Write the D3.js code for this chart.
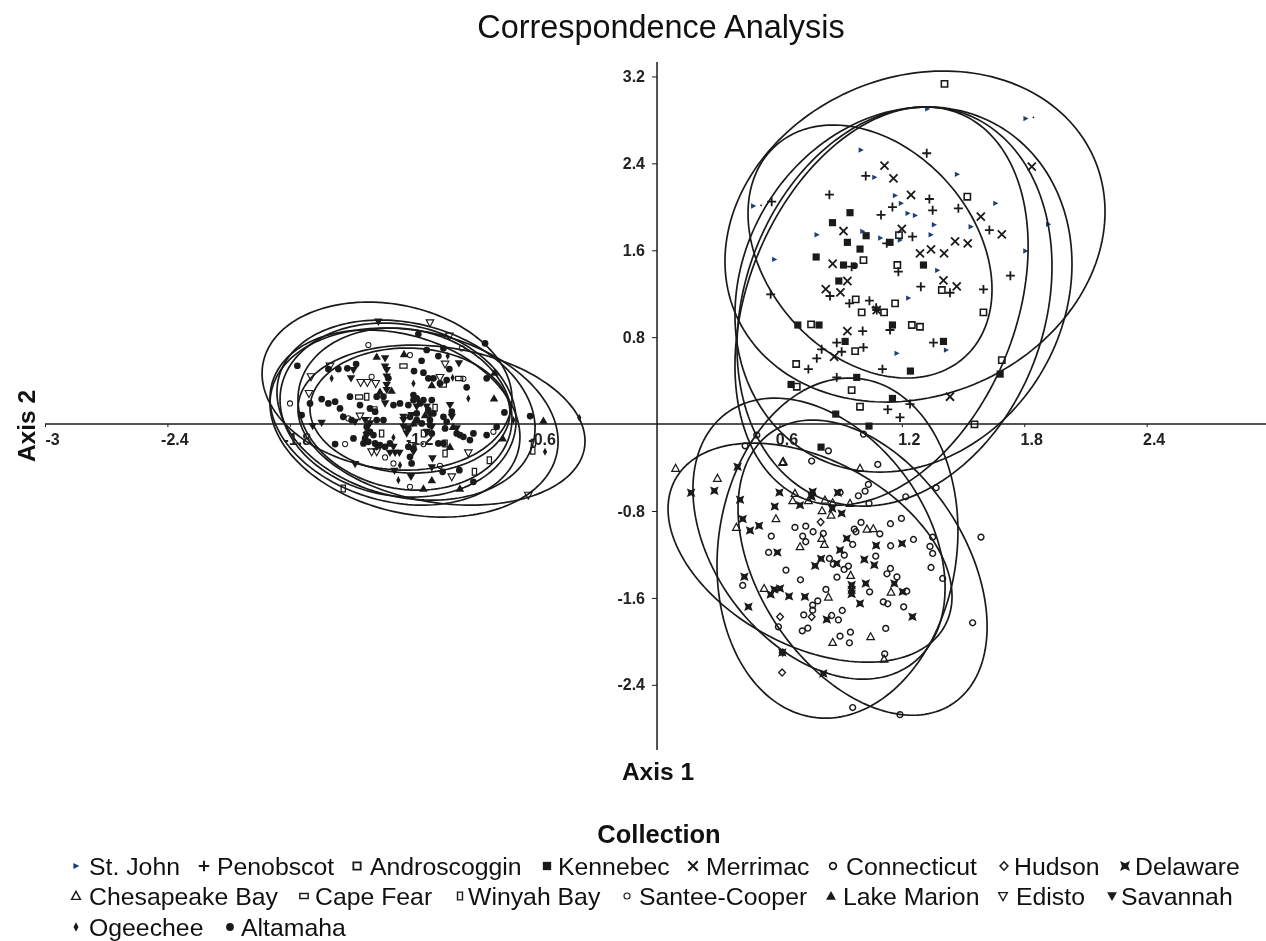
<!DOCTYPE html>
<html><head><meta charset="utf-8">
<script src="https://cdn.jsdelivr.net/npm/d3@7/dist/d3.min.js"></script>
<style>html,body{margin:0;padding:0;background:#fff}svg{display:block;filter:blur(0.35px)}text{font-family:"Liberation Sans",Arial,sans-serif;fill:#111}</style>
</head><body><svg id="c" width="1266" height="941"></svg>
<script>
const stJohn=[[.472,2.007],[.575,1.516],[.783,1.743],[.999,2.523],[1.066,2.271],[1.167,2.103],[1.196,2.032],[1.229,1.94],[1.265,1.921],[1.358,1.835],[1.342,1.743],[1.007,1.774],[1.095,1.713],[1.191,1.694],[1.471,2.299],[1.325,2.901],[1.807,2.812],[1.659,2.032],[1.538,1.817],[1.918,1.839],[1.806,1.593],[1.374,1.415],[1.232,1.16],[1.175,.651],[1.417,.681]];
const strayDots=[[.51,2.014],[1.845,2.824]];
const penobscot=[[.562,2.047],[.845,2.112],[1.023,2.284],[1.322,2.493],[1.477,1.986],[1.154,1.998],[1.098,1.925],[1.335,2.072],[1.351,1.968],[1.126,1.664],[1.252,1.725],[1.629,1.786],[1.732,1.366],[1.6,1.24],[1.293,1.265],[1.436,1.209],[1.183,1.403],[1.041,1.136],[.943,1.111],[1.074,1.071],[.848,1.179],[.557,1.194],[.954,1.449],[1.008,.856],[1.142,.866],[.881,.749],[.807,.688],[.905,.666],[.783,.605],[1.012,.706],[.742,.506],[1.105,.506],[.881,.43],[1.355,.749],[1.131,.135],[1.191,.061],[1.24,.184],[1.077,1.05]];
const androscoggin=[[1.409,3.131],[1.521,2.093],[1.186,1.74],[1.396,1.234],[1.167,1.111],[.974,1.148],[1.012,1.51],[1.178,1.464],[1.003,1.028],[1.113,1.028],[1.6,1.028],[.755,.918],[1.249,.912],[1.289,.896],[.971,.672],[.682,.553],[.685,.344],[.954,.313],[.995,.16],[1.69,.589],[1.556,-.003]];
const kennebec=[[.946,1.946],[.86,1.854],[1.025,1.734],[.933,1.673],[.995,1.611],[1.142,1.673],[.78,1.538],[.914,1.464],[1.306,1.464],[.891,1.317],[.69,.912],[.794,.912],[1.154,.912],[.922,.761],[1.404,.761],[1.242,.488],[.979,.43],[1.154,.236],[.657,.365],[1.682,.46],[.876,.092],[1.039,-.018],[.804,-.212]];
const merrimac=[[1.115,2.379],[1.159,2.262],[1.245,2.109],[1.2,1.796],[.914,1.777],[1.587,1.909],[1.69,1.747],[1.461,1.682],[1.523,1.664],[1.289,1.572],[1.343,1.608],[1.407,1.572],[.861,1.476],[1.404,1.323],[1.469,1.268],[.933,1.317],[.827,1.243],[.899,1.212],[1.837,2.37],[.933,.856],[1.436,.252],[1.077,1.05],[.868,.62]];
const connecticut=[[.676,-.951],[.729,-.939],[.765,-.991],[.815,-1.007],[.714,-1.031],[.729,-1.083],[.56,-1.031],[.547,-1.181],[.632,-1.344],[.703,-1.433],[.828,-1.522],[.882,-1.409],[.845,-1.237],[.864,-1.289],[.917,-1.338],[.938,-1.307],[.918,-1.206],[.967,-.967],[.975,-.991],[1,-.905],[1.092,-1.01],[1.144,-.917],[1.198,-.868],[.959,-1.108],[1.145,-1.12],[1.257,-1.062],[1.351,-1.04],[1.338,-1.126],[1.351,-1.191],[1.343,-1.32],[1.4,-1.421],[1.588,-1.04],[1.547,-1.829],[1.072,-1.215],[1.144,-1.329],[1.127,-1.378],[1.176,-1.406],[1.042,-1.544],[1.109,-1.636],[1.131,-1.654],[1.209,-1.682],[1.224,-1.538],[.788,-1.627],[.763,-1.667],[.763,-1.713],[.719,-1.756],[.595,-1.866],[.712,-1.903],[.739,-1.878],[.856,-1.762],[.889,-1.802],[.908,-1.716],[.897,-1.952],[.948,-1.915],[.943,-2.013],[1.121,-1.881],[1.116,-2.115],[.959,-2.609],[1.191,-2.674],[.42,-1.485],[.897,-.629],[.987,-.66],[1.02,-.617],[1.036,-.555],[1.039,-.73],[1.219,-.669],[1.368,-.586],[1.082,-.371],[.758,-.34],[.84,-.246],[1.012,-.092],[.489,-.101],[.432,-.2]];
const hudson=[[.802,-.902],[.603,-1.774],[.613,-2.287],[.758,-1.774],[.616,-2.103]];
const delaware=[[.167,-.632],[.281,-.614],[.395,-.393],[.407,-.696],[.6,-.629],[.577,-.758],[.42,-.874],[.5,-.936],[.456,-.979],[.59,-1.181],[.428,-1.406],[.448,-1.682],[.557,-1.568],[.575,-1.522],[.603,-1.513],[.647,-1.584],[.725,-1.59],[.775,-1.304],[.804,-1.24],[.881,-1.283],[.897,-1.16],[.93,-1.053],[.954,-1.482],[.954,-1.528],[.954,-1.565],[1.023,-1.467],[1.016,-1.246],[1.065,-1.298],[1.074,-1.117],[1.201,-1.099],[1.163,-1.467],[.995,-1.651],[.832,-1.799],[1.252,-1.774],[.886,-.632],[.763,-.623],[.758,-.669],[.701,-.746],[.859,-.776],[.905,-.822],[.614,-2.103],[.815,-2.296],[1.204,-1.544]];
const chesapeake=[[.296,-.5],[.619,-.346],[.995,-.408],[.676,-.638],[.665,-.706],[.742,-.706],[.823,-.7],[.946,-.73],[.809,-.798],[.853,-.838],[.583,-.871],[.389,-.951],[1.029,-.967],[1.06,-.964],[.807,-1.053],[.82,-1.108],[.701,-1.129],[.949,-1.393],[.525,-1.513],[.84,-1.593],[1.147,-1.547],[.861,-2.01],[1.047,-1.958],[1.113,-2.164],[.091,-.408],[.861,-.724],[.615,-.353]];
const capeFear=[[-1.243,.534],[-1.39,.14],[-1.2,-.19],[-1.05,.36],[-1.46,.25],[-.97,.42]];
const winyah=[[-1.088,.15],[-1.039,-.27],[-1.039,-.178],[-.822,-.332],[-.895,-.439],[-1.538,-.593],[-.606,-.172],[-.609,-.246],[-1.145,-.086],[-1.35,-.086],[-1.423,.252]];
const santee=[[-1.415,.728],[-1.211,.635],[-.957,.697],[-1.399,.436],[-1.513,.052],[-.949,.417],[-1.529,-.184],[-1.333,-.307],[-1.292,-.362],[-1.064,-.384],[-1.211,-.577],[-1.145,-.184],[-.802,-.071],[-1.799,.19]];
const lakeMarion=[[-1.24,.645],[-1.374,.62],[-1.301,.307],[-1.104,.359],[-.797,.473],[-.799,.236],[-.557,.031],[-.756,-.132],[-1.104,-.516],[-.966,-.593],[-1.015,-.209],[-1.137,.083],[-1.145,-.593],[-1.358,.298],[-1.194,.006],[-1,-.025]];
const edisto=[[-1.113,.933],[-1.018,.81],[-1.039,.553],[-1.696,.436],[-1.706,.282],[-1.453,.384],[-1.42,.384],[-1.379,.374],[-1.456,.074],[-1.42,.031],[-1.399,-.255],[-1.374,-.255],[-1.006,-.485],[-.631,-.654],[-.925,-.264],[-1.064,.43],[-1.603,.534]];
const savannah=[[-1.366,.942],[-1.48,-.368],[-1.287,-.43],[-1.206,-.485],[-1.101,-.316],[-1.104,-.399],[-.971,.559],[-1.333,.605],[-1.5,.421],[-1.644,.012],[-1.688,-.018],[-1.333,.19],[-1.284,-.264],[-1.309,-.264],[-1.263,-.264],[-1.325,.436],[-1.325,.359],[-1.325,.313],[-1.015,.175],[-1.243,.067],[-1.431,.037],[-1.48,.021],[-1.243,-.025],[-1.104,-.025],[-1.203,.083],[-1.194,-.255],[-1.178,.16],[-1.129,.16],[-1.113,.083],[-1.243,.037],[-1.227,-.086],[-1.129,-.071],[-1.374,-.209],[-1.423,-.101],[-1.407,.006],[-1.292,-.209],[-1.325,.497],[-1.333,.528],[-1.488,.497],[-1.006,.067],[-.982,-.04]];
const ogeechee=[[-1.595,.421],[-1.194,.374],[-1.002,.427],[-.925,.236],[-1.541,.067],[-.704,.037],[-.549,-.255],[-1.268,-.516],[-.381,.058],[-1.292,-.123],[-1.26,-.378],[-1.026,.626]];
const altamaha=[[.968,1.458],[-1.17,.829],[-1.129,.682],[-1.047,.697],[-1.072,.626],[-1.154,.583],[-1.018,.506],[-1.191,.488],[-1.145,.473],[-1.121,.421],[-1.064,.374],[-.933,.338],[-1.562,.506],[-1.475,.553],[-1.611,.506],[-1.518,.513],[-1.763,.537],[-1.742,.083],[-1.644,.23],[-1.578,.206],[-1.611,.19],[-1.701,.19],[-1.578,-.184],[-1.488,-.132],[-.843,.743],[-.835,.421],[-.748,.107],[-.786,-.025],[-.835,-.101],[-.9,-.086],[-.966,-.101],[-.917,-.147],[-1.051,-.439],[-.969,-.424],[-.9,-.531],[-1.203,-.362],[-1.219,-.209],[-1.047,-.178],[-1.072,-.178],[-1.439,-.178],[-1.423,-.086],[-1.374,.037],[-1.341,.037],[-1.113,.037],[-1.145,.221],[-1.104,.221],[-1.194,.267],[-1.194,.221],[-1.26,.19],[-1.292,.175],[-.622,.074],[-1.219,.175],[-1.178,.236],[-1.162,.19],[-1.121,.129],[-1.096,.098],[-1.178,.098],[-1.211,.067],[-1.219,-.04],[-1.178,.037],[-1.153,.006],[-1.113,-.009],[-1.104,-.086],[-1.423,-.025],[-1.407,-.071],[-1.39,-.101],[-1.431,-.132],[-1.415,-.163],[-1.382,-.178],[-1.358,-.193],[-1.333,-.209],[-1.309,-.178],[-1.374,.252],[-1.341,.252],[-1.505,.252],[-1.456,.175],[-1.407,.144],[-1.382,.114],[-1.554,.144],[-1.538,.067],[-1.497,.037],[-1.047,.067],[-1.006,.114],[-1.031,.021],[-1.039,-.04],[-.982,-.086],[-.949,-.117],[-1.194,-.224],[-1.211,-.301],[-1.317,.421],[-1.096,.421],[-1.031,.405]];

// ellipses: xMin, xMax, yMin, yMax, tilt
const ellipsesLeft=[[-1.936,-.711,-.424,1.123,-.15],[-1.863,-.598,-.7,.958,-.2],[-1.701,-.721,-.451,.7,-.03],[-1.848,-.691,-.672,.93,-.12],[-1.76,-.711,-.608,.884,-.12],[-1.897,-.485,-.856,.884,-.2],[-1.76,-.353,-.746,.727,-.2],[-1.897,-.672,-.746,.866,-.22]];
const ellipsesRight=[[.333,2.196,.203,3.25,.15],[.446,1.642,.424,2.753,-.3],[.382,2.034,-.442,2.919,.14],[.392,1.936,-.755,2.919,.2],[.382,1.819,-.746,2.919,.3]];
const ellipsesLower=[[.054,1.446,-2.192,-.175,-.4],[.176,1.412,-2.348,.239,-.35],[.294,1.475,-2.707,.424,.1],[.397,1.618,-2.68,.037,-.4]];

const xTickValues=[-3,-2.4,-1.8,-1.2,-.6,.6,1.2,1.8,2.4];
const yTickValues=[-2.4,-1.6,-.8,.8,1.6,2.4,3.2];
const legendNames=["St. John","Penobscot","Androscoggin","Kennebec","Merrimac","Connecticut","Hudson","Delaware","Chesapeake Bay","Cape Fear","Winyah Bay","Santee-Cooper","Lake Marion","Edisto","Savannah","Ogeechee","Altamaha"];
const seriesData=[stJohn,penobscot,androscoggin,kennebec,merrimac,connecticut,hudson,delaware,chesapeake,capeFear,winyah,santee,lakeMarion,edisto,savannah,ogeechee,altamaha];

const W=1266,H=941;
const x=d3.scaleLinear().domain([-3,2.985]).range([45,1266]);
const y=d3.scaleLinear().domain([-3,3.333]).range([750,62]);
const svg=d3.select("#c");
const ink="#1a1a1a";

const poly=p=>"M"+p.map(a=>a.join(",")).join("L")+"Z";
const shapes={
 "St. John":{d:poly([[-2,-2.4],[2.6,0],[-2,2.4]]),fill:"#1d3f78"},
 "Penobscot":{d:"M-4,0H4M0,-4V4",sw:1.6},
 "Androscoggin":{d:"M-2.8,-2.8H2.8V2.8H-2.8Z",sw:1.4,open:1},
 "Kennebec":{d:"M-3.2,-3.2H3.2V3.2H-3.2Z",fill:ink},
 "Merrimac":{d:"M-3.6,-3.6L3.6,3.6M3.6,-3.6L-3.6,3.6",sw:1.6},
 "Connecticut":{d:"M2.6,0A2.6,2.6 0 1 1 -2.6,0A2.6,2.6 0 1 1 2.6,0Z",sw:1.3,open:1},
 "Hudson":{d:poly([[0,-3.2],[3,0],[0,3.2],[-3,0]]),sw:1.2,open:1},
 "Delaware":{d:poly([[-3.8,-3.8],[0,-2.2],[3.8,-3.8],[2.4,0],[3.8,3.8],[0,2.2],[-3.8,3.8],[-2.4,0]]),fill:ink},
 "Chesapeake Bay":{d:poly([[0,-3.6],[3.4,2.6],[-3.4,2.6]]),sw:1.1,open:1},
 "Cape Fear":{d:"M-3.2,-1.9H3.2V1.9H-3.2Z",sw:1.1,open:1},
 "Winyah Bay":{d:"M-1.9,-3H1.9V3H-1.9Z",sw:1.1,open:1},
 "Santee-Cooper":{d:"M2.3,0A2.3,2.3 0 1 1 -2.3,0A2.3,2.3 0 1 1 2.3,0Z",sw:.9,open:1},
 "Lake Marion":{d:poly([[0,-3.8],[3.8,2.8],[-3.8,2.8]]),fill:ink},
 "Edisto":{d:poly([[0,3.6],[3.4,-2.6],[-3.4,-2.6]]),sw:1,open:1},
 "Savannah":{d:poly([[0,3.8],[3.8,-2.8],[-3.8,-2.8]]),fill:ink},
 "Ogeechee":{d:poly([[0,-3.6],[1.9,0],[0,3.6],[-1.9,0]]),fill:ink},
 "Altamaha":{d:"M3,0A3,3 0 1 1 -3,0A3,3 0 1 1 3,0Z",fill:ink}
};
function styleMark(sel,name){const s=shapes[name];
 sel.attr("d",s.d).attr("fill",s.fill||"none").attr("stroke",s.sw?ink:"none").attr("stroke-width",s.sw||0);}

// points
legendNames.forEach((n,i)=>{
 svg.append("g").selectAll("path").data(seriesData[i]).join("path")
  .attr("transform",d=>`translate(${x(d[0])},${y(d[1])}) scale(1.12)`).call(styleMark,n);
});
svg.append("g").selectAll("circle").data(strayDots).join("circle")
 .attr("cx",d=>x(d[0])).attr("cy",d=>y(d[1])).attr("r",.9).attr("fill",ink);

// ellipses
const ellipseLine=d3.line().x(p=>x(p[0])).y(p=>y(p[1])).curve(d3.curveLinearClosed);
const ellipsePts=e=>{const [a,b,c,dd,r]=e,cx=(a+b)/2,cy=(c+dd)/2,rx=(b-a)/2,ry=(dd-c)/2,q=Math.sqrt(1-r*r);
 return d3.range(0,2*Math.PI,Math.PI/90).map(t=>[cx+rx*Math.cos(t),cy+ry*(r*Math.cos(t)+q*Math.sin(t))]);};
svg.append("g").selectAll("path").data([...ellipsesLeft,...ellipsesRight,...ellipsesLower]).join("path")
 .attr("d",e=>ellipseLine(ellipsePts(e))).attr("fill","none").attr("stroke",ink).attr("stroke-width",1.7);

// axes
const fmt=d=>String(+d.toFixed(1));
const gx=svg.append("g").attr("transform",`translate(0,${y(0)})`)
 .call(d3.axisBottom(x).tickValues(xTickValues).tickSize(3).tickFormat(fmt));
gx.select(".domain").attr("stroke",ink).attr("stroke-width",1.5).attr("d",`M45,0H1266`);
gx.selectAll(".tick line").attr("stroke",ink);
gx.selectAll(".tick text").attr("x",7).attr("y",10).attr("font-size",16).attr("font-weight","bold").attr("font-family",null).style("fill","#222");
const gy=svg.append("g").attr("transform",`translate(${x(0)},0)`)
 .call(d3.axisLeft(y).tickValues(yTickValues).tickSize(5).tickFormat(fmt));
gy.select(".domain").attr("stroke",ink).attr("stroke-width",1.5).attr("d",`M0,62V750`);
gy.selectAll(".tick line").attr("stroke",ink);
gy.selectAll(".tick text").attr("x",-12).attr("font-size",16).attr("font-weight","bold").attr("font-family",null).style("fill","#222");

// titles
svg.append("text").attr("x",661).attr("y",38).attr("text-anchor","middle").attr("font-size",32.4).text("Correspondence Analysis");
svg.append("text").attr("x",658).attr("y",780).attr("text-anchor","middle").attr("font-size",24.5).attr("font-weight","bold").text("Axis 1");
svg.append("text").attr("transform","translate(35,426) rotate(-90)").attr("text-anchor","middle").attr("font-size",24.5).attr("font-weight","bold").text("Axis 2");
svg.append("text").attr("x",659).attr("y",843).attr("text-anchor","middle").attr("font-size",25.5).attr("font-weight","bold").text("Collection");

// legend
const legendRowY=[866,896,927];
const legendLayout=[[0,76,89],[0,204,217],[0,357,370],[0,547,558],[0,693,706],[0,833,846],[0,1004,1014],[0,1125,1135],
 [1,76,89],[1,304,315],[1,460,468],[1,627,639],[1,831,843],[1,1003,1016],[1,1112,1121],[2,76,89],[2,230,241]];
legendNames.forEach((n,i)=>{
 const [r,sx,tx]=legendLayout[i],cy=legendRowY[r];
 svg.append("path").attr("transform",`translate(${sx},${cy}) scale(1.3)`).call(styleMark,n);
 svg.append("text").attr("x",tx).attr("y",cy+8.5).attr("font-size",24.8).text(n);
});
</script></body></html>
